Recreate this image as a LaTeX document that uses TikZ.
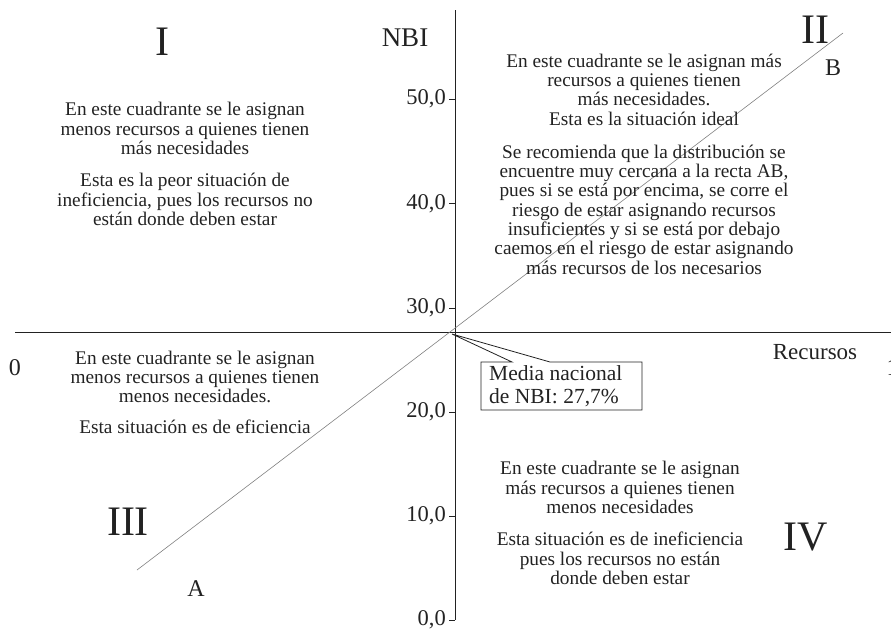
\documentclass[tikz,border=0pt]{standalone}
\usepackage{fontspec}
\setmainfont{Liberation Serif}
\usetikzlibrary{calc}
\definecolor{ink}{HTML}{222222}
\tikzset{
  body/.style={font=\fontsize{19.3}{19.3}\selectfont, align=center, inner sep=0pt, text=ink},
  roman/.style={font=\fontsize{42}{44}\selectfont, inner sep=0pt, text=ink},
  ticklab/.style={font=\fontsize{22.5}{24}\selectfont, inner sep=0pt, anchor=east, text=ink},
  biglab/.style={font=\fontsize{24}{26}\selectfont, inner sep=0pt, text=ink},
  axisline/.style={draw=ink, line width=0.9pt},
  diag/.style={draw=black!50, line width=0.6pt},
}
\begin{document}
\begin{tikzpicture}[x=1pt,y=-1pt]
\useasboundingbox (0,0) rectangle (891,630);
% axes
\coordinate (vtop) at (455,10);
\coordinate (vbot) at (455,620);
\coordinate (hleft) at (15,332);
\coordinate (hright) at (891,332);
\draw[axisline] (vtop) -- (vbot);
\draw[axisline] (hleft) -- (hright);
\foreach \y in {99,203.5,308,412,516,620}{
  \draw[axisline] (449,\y) -- (455,\y);
}
\node[ticklab] (t50) at (446,99) {50,0};
\node[ticklab] (t40) at (446,203.5) {40,0};
\node[ticklab] (t30) at (446,308) {30,0};
\node[ticklab] (t20) at (446,412) {20,0};
\node[ticklab] (t10) at (446,516) {10,0};
\node[ticklab] (t00) at (446,620) {0,0};
% diagonal AB
\coordinate (pA) at (137,570);
\coordinate (pB) at (843,33);
\draw[diag] (pA) -- (pB);
% labels
\node[biglab, font=\fontsize{27}{29}\selectfont] (nbi) at (405,38) {NBI};
\node[biglab] (labA) at (196,589) {A};
\node[biglab] (labB) at (833,68) {B};
\node[biglab, font=\fontsize{23}{25}\selectfont] (recursos) at (815,352) {Recursos};
\node[biglab] (zero) at (15,368) {0};
\node[biglab, anchor=west] (hundred) at (886.5,368) {100};
% roman numerals
\node[roman] (qI) at (162,42) {I};
\node[roman] (qII) at (815,30) {II};
\node[roman] (qIII) at (128,522) {III};
\node[roman] (qIV) at (806,537) {IV};
% quadrant texts
\node[body] (txtI) at (185,164) {En este cuadrante se le asignan\\menos recursos a quienes tienen\\más necesidades\\[13pt]Esta es la peor situación de\\ineficiencia, pues los recursos no\\están donde deben estar};
\node[body] (txtII) at (644,164) {En este cuadrante se le asignan más\\recursos a quienes tienen\\más necesidades.\\Esta es la situación ideal\\[14pt]Se recomienda que la distribución se\\encuentre muy cercana a la recta AB,\\pues si se está por encima, se corre el\\riesgo de estar asignando recursos\\insuficientes y si se está por debajo\\caemos en el riesgo de estar asignando\\más recursos de los necesarios};
\node[body] (txtIII) at (195,392) {En este cuadrante se le asignan\\menos recursos a quienes tienen\\menos necesidades.\\[11pt]Esta situación es de eficiencia};
\node[body] (txtIV) at (620,523) {En este cuadrante se le asignan\\más recursos a quienes tienen\\menos necesidades\\[13pt]Esta situación es de ineficiencia\\pues los recursos no están\\donde deben estar};
% callout
\node[font=\fontsize{21.5}{23}\selectfont, align=left, text=ink, inner sep=0pt, anchor=west] (callout) at (489,386) {Media nacional\\de NBI: 27,7\%};
\coordinate (tip) at (452,334);
\coordinate (bNW) at (481,362);
\coordinate (bNE) at (642,362);
\coordinate (bSE) at (642,410);
\coordinate (bSW) at (481,410);
\coordinate (w1) at (512,362);
\coordinate (w2) at (550,362);
\draw[draw=ink, line width=0.8pt, line join=miter] (bNW) -- (w1) -- (tip) -- (w2) -- (bNE) -- (bSE) -- (bSW) -- cycle;
\end{tikzpicture}
\end{document}
